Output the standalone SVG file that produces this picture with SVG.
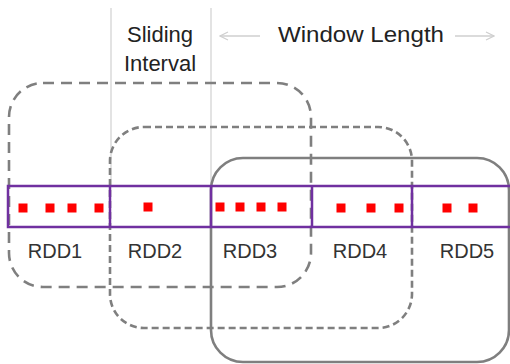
<svg xmlns="http://www.w3.org/2000/svg" width="510" height="364" viewBox="0 0 510 364">
<defs>
<marker id="ah" viewBox="0 0 10 10" refX="9" refY="5" markerWidth="10" markerHeight="10" markerUnits="userSpaceOnUse" orient="auto-start-reverse">
<path d="M1,1 L9,5 L1,9" fill="none" stroke="#cfcfcf" stroke-width="1.2"/>
</marker>
<style>
.guide{stroke:#d4d4d4;stroke-width:1.3;fill:none}
.arr{stroke:#cfcfcf;stroke-width:1.5;fill:none}
.win{fill:none;stroke:#7f7f7f;stroke-width:2.6}
.w1{stroke-dasharray:11 7}
.w2{stroke-dasharray:7 4}
.bar{fill:none;stroke:#7030a0;stroke-width:2.5}
.dot{fill:#ff0000}
.t{font-family:"Liberation Sans",Arial,sans-serif;fill:#222;text-anchor:middle}
.lbl{font-size:20px;fill:#333}
.hdr{font-size:22px}
</style>
</defs>
<rect width="510" height="364" fill="#fff"/>
<g id="guides">
<line class="guide" x1="111" y1="8" x2="111" y2="186"/>
<line class="guide" x1="211" y1="8" x2="211" y2="186"/>
</g>
<g id="labels-top">
<text class="t hdr" x="160" y="42">Sliding</text>
<text class="t hdr" x="160" y="71">Interval</text>
<text class="t hdr" x="361" y="42" textLength="166" lengthAdjust="spacingAndGlyphs">Window Length</text>
</g>
<g id="connectors">
<line class="arr" x1="260" y1="36" x2="220" y2="36" marker-end="url(#ah)"/>
<line class="arr" x1="455" y1="36" x2="494" y2="36" marker-end="url(#ah)"/>
</g>
<g id="window1"><rect class="win w1" x="9" y="83" width="302" height="204" rx="34"/></g>
<g id="window2"><rect class="win w2" x="110" y="127" width="302" height="201" rx="34"/></g>
<g id="window3"><rect class="win" x="211" y="158" width="298" height="204" rx="32"/></g>
<g id="rdd1">
<rect class="dot" x="18.5" y="203.5" width="9" height="9"/>
<rect class="dot" x="45.5" y="203.5" width="9" height="9"/>
<rect class="dot" x="67.5" y="203.5" width="9" height="9"/>
<rect class="dot" x="94.5" y="203.5" width="9" height="9"/>
<text class="t lbl" x="55" y="258">RDD1</text>
</g>
<g id="rdd2">
<rect class="dot" x="143.5" y="202.5" width="9" height="9"/>
<text class="t lbl" x="155" y="258">RDD2</text>
</g>
<g id="rdd3">
<rect class="dot" x="215.5" y="202.5" width="9" height="9"/>
<rect class="dot" x="235.5" y="202.5" width="9" height="9"/>
<rect class="dot" x="256.5" y="202.5" width="9" height="9"/>
<rect class="dot" x="277.5" y="202.5" width="9" height="9"/>
<text class="t lbl" x="250" y="258">RDD3</text>
</g>
<g id="rdd4">
<rect class="dot" x="336.5" y="203.5" width="9" height="9"/>
<rect class="dot" x="366.5" y="203.5" width="9" height="9"/>
<rect class="dot" x="394.5" y="203.5" width="9" height="9"/>
<text class="t lbl" x="360" y="258">RDD4</text>
</g>
<g id="rdd5">
<rect class="dot" x="442.5" y="203.5" width="9" height="9"/>
<rect class="dot" x="468.5" y="203.5" width="9" height="9"/>
<text class="t lbl" x="467" y="258">RDD5</text>
</g>
<g id="bar">
<path class="bar" d="M514,186 H8 V227 H514 M110,186 V227 M211,186 V227 M312,186 V227 M412,186 V227"/>
</g>
</svg>
